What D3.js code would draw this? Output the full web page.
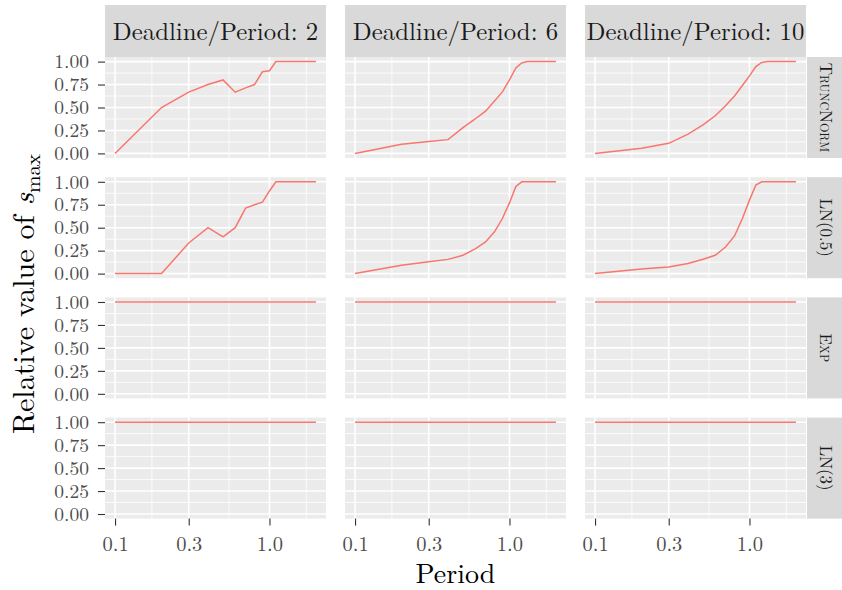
<!DOCTYPE html>
<html>
<head>
<meta charset="utf-8">
<script src="https://cdn.jsdelivr.net/npm/d3@7"></script>
<style>
  body { margin: 0; background: #fff; }
</style>
</head>
<body>
<div id="chart"></div>
<script>
// Data
var periods   = [0.1, 0.2, 0.3, 0.4, 0.5, 0.6, 0.7, 0.8, 0.9, 1.0, 1.1, 1.2, 1.3, 1.4, 1.5, 1.6, 1.7, 1.8, 1.9, 2.0];
var deadlines = [2, 6, 10];
var dists     = ["TruncNorm", "LN(0.5)", "Exp", "LN(3)"];
var xBreaks   = [0.1, 0.3, 1.0];
var yBreaks   = [0, 0.25, 0.5, 0.75, 1];

var truncNorm2  = [0, 0.5, 0.667, 0.75, 0.8, 0.667, 0.714, 0.75, 0.889, 0.9, 1, 1, 1, 1, 1, 1, 1, 1, 1, 1];
var truncNorm6  = [0, 0.10, 0.13, 0.15, 0.28, 0.375, 0.46, 0.57, 0.67, 0.80, 0.93, 0.985, 1, 1, 1, 1, 1, 1, 1, 1];
var truncNorm10 = [0, 0.055, 0.11, 0.21, 0.31, 0.41, 0.52, 0.625, 0.74, 0.845, 0.945, 0.99, 1, 1, 1, 1, 1, 1, 1, 1];
var ln05_2      = [0, 0, 0.333, 0.5, 0.4, 0.5, 0.714, 0.75, 0.778, 0.9, 1, 1, 1, 1, 1, 1, 1, 1, 1, 1];
var ln05_6      = [0, 0.09, 0.13, 0.155, 0.2, 0.27, 0.345, 0.455, 0.6, 0.77, 0.95, 1, 1, 1, 1, 1, 1, 1, 1, 1];
var ln05_10     = [0, 0.05, 0.072, 0.11, 0.156, 0.2, 0.29, 0.41, 0.6, 0.8, 0.965, 1, 1, 1, 1, 1, 1, 1, 1, 1];
var exp2        = [1, 1, 1, 1, 1, 1, 1, 1, 1, 1, 1, 1, 1, 1, 1, 1, 1, 1, 1, 1];
var exp6        = [1, 1, 1, 1, 1, 1, 1, 1, 1, 1, 1, 1, 1, 1, 1, 1, 1, 1, 1, 1];
var exp10       = [1, 1, 1, 1, 1, 1, 1, 1, 1, 1, 1, 1, 1, 1, 1, 1, 1, 1, 1, 1];
var ln3_2       = [1, 1, 1, 1, 1, 1, 1, 1, 1, 1, 1, 1, 1, 1, 1, 1, 1, 1, 1, 1];
var ln3_6       = [1, 1, 1, 1, 1, 1, 1, 1, 1, 1, 1, 1, 1, 1, 1, 1, 1, 1, 1, 1];
var ln3_10      = [1, 1, 1, 1, 1, 1, 1, 1, 1, 1, 1, 1, 1, 1, 1, 1, 1, 1, 1, 1];

// rows = distributions, columns = deadlines
var series = [
  [truncNorm2, truncNorm6, truncNorm10],
  [ln05_2, ln05_6, ln05_10],
  [exp2, exp6, exp10],
  [ln3_2, ln3_6, ln3_10]
];

(function() {
  var W = 842, H = 590,
      left = 105, top = 57,
      panelW = 221, panelH = 101,
      gapX = 19, gapY = 19.2,
      stripH = 52, stripW = 38,
      font = "'Latin Modern Roman', 'Liberation Serif', serif";

  var svg = d3.select("#chart").append("svg")
      .attr("width", W)
      .attr("height", H);

  // log x scale with ggplot-style 5% expansion
  var lx0 = Math.log10(d3.min(periods)), lx1 = Math.log10(d3.max(periods)),
      ex = (lx1 - lx0) * 0.05;
  var x = d3.scaleLog()
      .domain([Math.pow(10, lx0 - ex), Math.pow(10, lx1 + ex)])
      .range([0, panelW]);

  var y = d3.scaleLinear()
      .domain([-0.05, 1.05])
      .range([panelH, 0]);

  // minor breaks sit halfway (in log space) between majors
  var xAll = xBreaks.concat([3]);
  var xMinor = d3.pairs(xAll).map(function(p) { return Math.sqrt(p[0] * p[1]); });
  var yMinor = d3.pairs(yBreaks).map(function(p) { return (p[0] + p[1]) / 2; });

  var line = d3.line()
      .x(function(d) { return x(d[0]); })
      .y(function(d) { return y(d[1]); });

  dists.forEach(function(dist, r) {
    deadlines.forEach(function(dl, c) {
      var px = left + c * (panelW + gapX),
          py = top + r * (panelH + gapY);
      var g = svg.append("g").attr("transform", "translate(" + px + "," + py + ")");

      g.append("rect")
        .attr("width", panelW).attr("height", panelH)
        .attr("fill", "#EBEBEB");

      // minor grid
      g.selectAll(".xminor").data(xMinor.filter(function(v) { return x(v) < panelW; }))
        .enter().append("line")
        .attr("x1", function(d) { return x(d); }).attr("x2", function(d) { return x(d); })
        .attr("y1", 0).attr("y2", panelH)
        .attr("stroke", "#fff").attr("stroke-width", 0.8);
      g.selectAll(".yminor").data(yMinor)
        .enter().append("line")
        .attr("y1", function(d) { return y(d); }).attr("y2", function(d) { return y(d); })
        .attr("x1", 0).attr("x2", panelW)
        .attr("stroke", "#fff").attr("stroke-width", 0.8);
      // major grid
      g.selectAll(".xmajor").data(xBreaks)
        .enter().append("line")
        .attr("x1", function(d) { return x(d); }).attr("x2", function(d) { return x(d); })
        .attr("y1", 0).attr("y2", panelH)
        .attr("stroke", "#fff").attr("stroke-width", 1.6);
      g.selectAll(".ymajor").data(yBreaks)
        .enter().append("line")
        .attr("y1", function(d) { return y(d); }).attr("y2", function(d) { return y(d); })
        .attr("x1", 0).attr("x2", panelW)
        .attr("stroke", "#fff").attr("stroke-width", 1.6);

      g.append("path")
        .datum(periods.map(function(p, i) { return [p, series[r][c][i]]; }))
        .attr("d", line)
        .attr("fill", "none")
        .attr("stroke", "#F8766D")
        .attr("stroke-width", 1.5);

      // y axis on first column
      if (c === 0) {
        var ya = d3.axisLeft(y).tickValues(yBreaks).tickSize(7).tickPadding(9)
            .tickFormat(d3.format(".2f"));
        var yg = g.append("g").call(ya);
        yg.select(".domain").remove();
        yg.selectAll(".tick line").attr("stroke", "#333").attr("stroke-width", 1.1);
        yg.selectAll(".tick text").attr("fill", "#4D4D4D")
          .style("font-family", font).style("font-size", "19.5px");
      }
      // x axis on last row
      if (r === dists.length - 1) {
        var xa = d3.axisBottom(x).tickValues(xBreaks).tickSize(7).tickPadding(11)
            .tickFormat(d3.format(".1f"));
        var xg = g.append("g").attr("transform", "translate(0," + panelH + ")").call(xa);
        xg.select(".domain").remove();
        xg.selectAll(".tick line").attr("stroke", "#333").attr("stroke-width", 1.1);
        xg.selectAll(".tick text").attr("fill", "#4D4D4D")
          .style("font-family", font).style("font-size", "20.5px");
      }
      // top strips
      if (r === 0) {
        g.append("rect")
          .attr("y", -stripH).attr("width", panelW).attr("height", stripH)
          .attr("fill", "#D9D9D9");
        g.append("text")
          .attr("x", panelW / 2).attr("y", -stripH / 2 + 9)
          .attr("text-anchor", "middle")
          .style("font-family", font).style("font-size", "24.8px")
          .attr("fill", "#1A1A1A")
          .text("Deadline/Period: " + dl);
      }
      // right strips
      if (c === deadlines.length - 1) {
        g.append("rect")
          .attr("x", panelW + 1).attr("width", stripW).attr("height", panelH)
          .attr("fill", "#D9D9D9");
        var smallCaps = (dist === "TruncNorm" || dist === "Exp");
        g.append("text")
          .attr("transform", "translate(" + (panelW + 1 + stripW / 2 - 6) + "," + panelH / 2 + ") rotate(90)")
          .attr("text-anchor", "middle")
          .style("font-family", font).style("font-size", "17px")
          .attr("fill", "#1A1A1A")
          .style("font-variant", smallCaps ? "small-caps" : "normal")
          .text(dist);
      }
    });
  });

  // axis titles
  svg.append("text")
    .attr("x", left + (deadlines.length * panelW + (deadlines.length - 1) * gapX) / 2)
    .attr("y", 583)
    .attr("text-anchor", "middle")
    .style("font-family", font).style("font-size", "28px")
    .text("Period");

  var yt = svg.append("text")
    .attr("transform", "translate(34," + (top + 237) + ") rotate(-90)")
    .attr("text-anchor", "middle")
    .style("font-family", font).style("font-size", "30px");
  yt.append("tspan").text("Relative value of ");
  yt.append("tspan").style("font-style", "italic").text("s");
  yt.append("tspan").style("font-size", "21px").attr("dy", 6).text("max");
})();
</script>
</body>
</html>
